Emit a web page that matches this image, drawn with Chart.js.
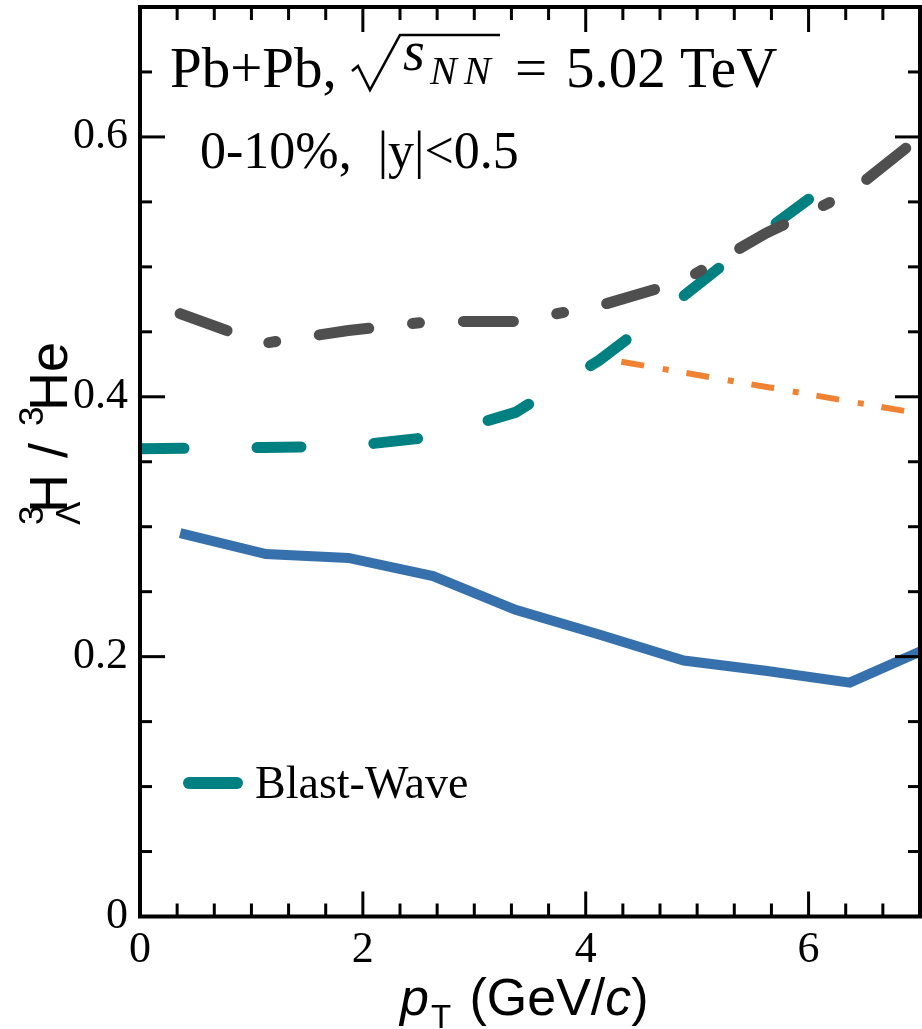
<!DOCTYPE html>
<html>
<head>
<meta charset="utf-8">
<script src="https://cdn.jsdelivr.net/npm/chart.js@4"></script>
<style>
  html, body { margin: 0; padding: 0; background: #fff; }
  canvas { display: block; }
</style>
</head>
<body>
<canvas id="ratio" width="922" height="1029"></canvas>
<script>
// Hypertriton / 3He ratio vs pT
const blueX = [0.36, 1.13, 1.87, 2.63, 3.37, 4.12, 4.88, 5.63, 6.37, 7.0];
const blueY = [0.295, 0.279, 0.276, 0.262, 0.236, 0.217, 0.197, 0.189, 0.180, 0.204];

const greyX = [0.36, 1.1, 1.87, 2.62, 3.37, 4.12, 4.87, 5.62, 6.37, 7.0];
const greyY = [0.464, 0.441, 0.451, 0.458, 0.458, 0.470, 0.489, 0.526, 0.557, 0.600];

const tealX = [0, 1.1, 1.87, 2.62, 3.37, 4.12, 4.87, 5.62, 6.0];
const tealY = [0.360, 0.361, 0.362, 0.369, 0.388, 0.428, 0.477, 0.528, 0.552];

const orangeX = [4.32, 7.0];
const orangeY = [0.427, 0.387];

const xTicks = [0, 2, 4, 6];
const yTicks = [0, 0.2, 0.4, 0.6];

const serif = "'Liberation Serif', 'Times New Roman', serif";
const sans = "'Liberation Sans', Arial, sans-serif";

const pts = (xs, ys) => xs.map((x, i) => ({ x: x, y: ys[i] }));

const line = (ctx, x1, y1, x2, y2) => {
    ctx.beginPath();
    ctx.moveTo(x1, y1);
    ctx.lineTo(x2, y2);
    ctx.stroke();
};

const noPad = s => {
    s.paddingTop = 0;
    s.paddingBottom = 0;
    s.paddingLeft = 0;
    s.paddingRight = 0;
};

// inward ticks, frame and all the text
const decor = {
    id: 'decor',
    afterDatasetsDraw(chart) {
        const { ctx, chartArea: a, scales: { x, y } } = chart;
        ctx.save();
        ctx.strokeStyle = '#000';
        ctx.lineWidth = 3;
        ctx.lineCap = 'butt';
        for (let i = 1; i < 21; i++) {
            const px = x.getPixelForValue(i / 3);
            const len = i % 6 === 0 ? 25 : 13;
            line(ctx, px, a.bottom, px, a.bottom - len);
            line(ctx, px, a.top, px, a.top + len);
        }
        for (let i = 1; i < 14; i++) {
            const py = y.getPixelForValue(i * 0.05);
            const len = i % 4 === 0 ? 25 : 12;
            line(ctx, a.left, py, a.left + len, py);
            line(ctx, a.right, py, a.right - len, py);
        }
        ctx.lineWidth = 4;
        ctx.strokeRect(a.left, a.top, a.right - a.left, a.bottom - a.top);

        // legend
        ctx.strokeStyle = '#008080';
        ctx.lineWidth = 12;
        ctx.lineCap = 'round';
        line(ctx, 189, 783, 237, 783);
        ctx.fillStyle = '#000';
        ctx.textBaseline = 'alphabetic';
        ctx.textAlign = 'left';
        ctx.font = '46px ' + serif;
        ctx.fillText('Blast-Wave', 255, 798);

        // header text
        ctx.font = '57px ' + serif;
        ctx.fillText('Pb+Pb,', 170, 87);
        ctx.fillText('=', 515, 87);
        ctx.fillText('5.02 TeV', 566, 87);
        ctx.strokeStyle = '#000';
        ctx.lineWidth = 2.6;
        ctx.lineCap = 'butt';
        ctx.lineJoin = 'miter';
        ctx.beginPath();
        ctx.moveTo(352, 71);
        ctx.lineTo(358, 66);
        ctx.lineTo(370, 90);
        ctx.lineTo(400, 35);
        ctx.lineTo(500, 35);
        ctx.stroke();
        ctx.font = 'italic 56px ' + serif;
        ctx.fillText('s', 403, 70);
        ctx.font = 'italic 40px ' + serif;
        ctx.fillText('N', 430, 84);
        ctx.fillText('N', 464, 84);
        ctx.font = '52px ' + serif;
        ctx.fillText('0-10%,  |y|<0.5', 200, 168);

        // x title
        ctx.font = 'italic 52px ' + sans;
        ctx.fillText('p', 400, 1015);
        ctx.font = '33px ' + sans;
        ctx.fillText('T', 431, 1028);
        ctx.font = '52px ' + sans;
        let cx = 455;
        ctx.fillText(' (GeV/', cx, 1015);
        cx += ctx.measureText(' (GeV/').width;
        ctx.font = 'italic 52px ' + sans;
        ctx.fillText('c', cx, 1015);
        cx += ctx.measureText('c').width;
        ctx.font = '52px ' + sans;
        ctx.fillText(')', cx, 1015);

        // y title, rotated
        ctx.translate(67, 525);
        ctx.rotate(-Math.PI / 2);
        ctx.font = '35px ' + sans;
        ctx.fillText('3', 0, -24);
        ctx.fillText('\u039B', 0, 13);
        ctx.font = '54px ' + sans;
        ctx.fillText('H', 12, 0);
        ctx.fillText('/', 67, 0);
        ctx.font = '35px ' + sans;
        ctx.fillText('3', 99, -24);
        ctx.font = '54px ' + sans;
        ctx.fillText('He', 114, 0);
        ctx.restore();
    }
};

const ctx = document.getElementById('ratio').getContext('2d');
new Chart(ctx, {
    type: 'line',
    data: {
        datasets: [
            {
                label: 'blue',
                data: pts(blueX, blueY),
                borderColor: '#3771AD',
                borderWidth: 10,
                borderJoinStyle: 'miter',
                pointRadius: 0,
                clip: 0
            },
            {
                label: 'grey',
                data: pts(greyX, greyY),
                borderColor: '#4F4F4F',
                borderWidth: 11,
                borderCapStyle: 'round',
                borderDash: [50, 44, 7, 44],
                pointRadius: 0,
                clip: 0
            },
            {
                label: 'Blast-Wave',
                data: pts(tealX, tealY),
                borderColor: '#008080',
                borderWidth: 11,
                borderCapStyle: 'round',
                borderDash: [44, 73],
                pointRadius: 0,
                clip: 0
            },
            {
                label: 'orange',
                data: pts(orangeX, orangeY),
                borderColor: '#EF8233',
                borderWidth: 6,
                borderCapStyle: 'butt',
                borderDash: [23, 19, 6, 18],
                pointRadius: 0,
                clip: 0
            }
        ]
    },
    options: {
        responsive: false,
        animation: false,
        layout: { padding: { top: 7, right: 2, left: 0, bottom: 0 } },
        plugins: {
            legend: { display: false },
            tooltip: { enabled: false }
        },
        scales: {
            x: {
                type: 'linear',
                min: 0,
                max: 7,
                grid: { display: false, drawTicks: false },
                border: { display: false },
                afterFit: s => { s.height = 112.5; noPad(s); },
                afterBuildTicks: s => { s.ticks = xTicks.map(v => ({ value: v })); },
                ticks: {
                    color: '#000',
                    font: { family: serif, size: 44 },
                    padding: 8,
                    maxRotation: 0,
                    callback: v => String(v)
                }
            },
            y: {
                type: 'linear',
                min: 0,
                max: 0.7,
                grid: { display: false, drawTicks: false },
                border: { display: false },
                afterFit: s => { s.width = 140; noPad(s); },
                afterBuildTicks: s => { s.ticks = yTicks.map(v => ({ value: v })); },
                ticks: {
                    color: '#000',
                    font: { family: serif, size: 44 },
                    padding: 12,
                    callback: v => (v === 0 ? '0' : v.toFixed(1))
                }
            }
        }
    },
    plugins: [decor]
});
</script>
</body>
</html>
